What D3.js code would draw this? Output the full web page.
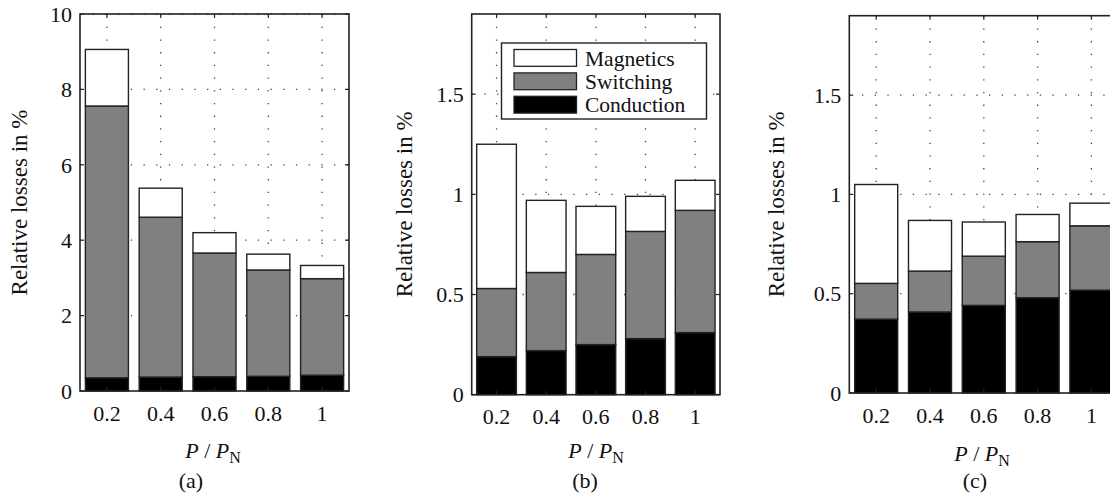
<!DOCTYPE html>
<html>
<head>
<meta charset="utf-8">
<script src="https://cdn.jsdelivr.net/npm/d3@7"></script>
<style>
  body { margin: 0; background: #fff; }
  text { font-family: 'Liberation Serif', 'Times New Roman', serif; fill: #111; }
</style>
</head>
<body>
<svg id="chart" width="1110" height="499"></svg>
<script>
(function () {
  // Data (values are the height of each stacked part, in %)
  var categories = ['0.2', '0.4', '0.6', '0.8', '1']
  var seriesNames = ['Conduction', 'Switching', 'Magnetics']

  var conductionA = [0.35, 0.37, 0.38, 0.39, 0.42]
  var switchingA = [7.21, 4.24, 3.28, 2.82, 2.56]
  var magneticsA = [1.50, 0.77, 0.54, 0.42, 0.35]

  var conductionB = [0.19, 0.22, 0.25, 0.28, 0.31]
  var switchingB = [0.34, 0.39, 0.45, 0.535, 0.61]
  var magneticsB = [0.72, 0.36, 0.24, 0.175, 0.15]

  var conductionC = [0.372, 0.408, 0.441, 0.48, 0.518]
  var switchingC = [0.18, 0.206, 0.248, 0.282, 0.324]
  var magneticsC = [0.498, 0.255, 0.172, 0.137, 0.114]

  var yTicksA = [0, 2, 4, 6, 8, 10]
  var yTicksBC = [0, 0.5, 1, 1.5]

  var FILL = { Conduction: '#000', Switching: '#808080', Magnetics: '#fff' }
  var FONT = 22

  var svg = d3.select('#chart')

  function rows (cond, sw, mag) {
    return categories.map(function (c, i) {
      return { cat: c, Conduction: cond[i], Switching: sw[i], Magnetics: mag[i] }
    })
  }

  function drawPanel (p) {
    var x = d3.scaleBand().domain(categories)
      .range([p.left, p.right]).paddingInner(0.2).paddingOuter(0.1)
    var y = d3.scaleLinear().domain([0, p.ymax]).range([p.bottom, p.top])
    var g = svg.append('g')

    // dotted grid
    var grid = g.append('g').attr('stroke', '#444').attr('stroke-width', 1.3)
      .attr('stroke-dasharray', '1.3 11.4')
    grid.selectAll('.gx').data(categories).enter().append('line')
      .attr('x1', function (d) { return x(d) + x.bandwidth() / 2 })
      .attr('x2', function (d) { return x(d) + x.bandwidth() / 2 })
      .attr('y1', p.top).attr('y2', p.bottom)
    grid.selectAll('.gy').data(p.yticks.slice(1)).enter().append('line')
      .attr('x1', p.left).attr('x2', p.right)
      .attr('y1', function (d) { return y(d) }).attr('y2', function (d) { return y(d) })

    // stacked bars
    var stacked = d3.stack().keys(seriesNames)(p.data)
    g.selectAll('.layer').data(stacked).enter().append('g')
      .attr('fill', function (s) { return FILL[s.key] })
      .selectAll('rect').data(function (s) { return s }).enter().append('rect')
      .attr('x', function (d) { return x(d.data.cat) })
      .attr('width', x.bandwidth())
      .attr('y', function (d) { return y(d[1]) })
      .attr('height', function (d) { return y(d[0]) - y(d[1]) })
      .attr('stroke', '#222').attr('stroke-width', 1.4)

    // box and inward ticks
    g.append('rect').attr('x', p.left).attr('y', p.top)
      .attr('width', p.right - p.left).attr('height', p.bottom - p.top)
      .attr('fill', 'none').attr('stroke', '#222').attr('stroke-width', 1.6)

    var ticks = g.append('g').attr('stroke', '#222').attr('stroke-width', 1.2)
    categories.forEach(function (c) {
      var cx = x(c) + x.bandwidth() / 2
      ticks.append('line').attr('x1', cx).attr('x2', cx).attr('y1', p.bottom).attr('y2', p.bottom - 4)
      ticks.append('line').attr('x1', cx).attr('x2', cx).attr('y1', p.top).attr('y2', p.top + 4)
    })
    p.yticks.forEach(function (v) {
      ticks.append('line').attr('x1', p.left).attr('x2', p.left + 4).attr('y1', y(v)).attr('y2', y(v))
      ticks.append('line').attr('x1', p.right).attr('x2', p.right - 4).attr('y1', y(v)).attr('y2', y(v))
    })

    // tick labels
    g.selectAll('.xl').data(categories).enter().append('text')
      .attr('x', function (d) { return x(d) + x.bandwidth() / 2 })
      .attr('y', p.bottom + 22).attr('dy', '0.35em')
      .attr('text-anchor', 'middle').attr('font-size', FONT)
      .text(function (d) { return d })
    g.selectAll('.yl').data(p.yticks).enter().append('text')
      .attr('x', p.left - 8).attr('y', function (d) { return y(d) }).attr('dy', '0.35em')
      .attr('text-anchor', 'end').attr('font-size', FONT)
      .text(function (d) { return d })

    // axis titles
    g.append('text')
      .attr('transform', 'translate(' + p.ylabelX + ',' + ((p.top + p.bottom) / 2) + ') rotate(-90)')
      .attr('dy', '0.35em').attr('text-anchor', 'middle').attr('font-size', 23)
      .text('Relative losses in %')

    var xt = g.append('text').attr('x', p.xlabelX).attr('y', p.xlabelY)
      .attr('text-anchor', 'middle').attr('font-size', FONT)
    xt.append('tspan').attr('font-style', 'italic').text('P')
    xt.append('tspan').text(' / ')
    xt.append('tspan').attr('font-style', 'italic').text('P')
    xt.append('tspan').attr('font-size', 16).attr('dy', 5).text('N')

    g.append('text').attr('x', p.capX).attr('y', 488)
      .attr('text-anchor', 'middle').attr('font-size', FONT)
      .text(p.caption)

    return { x: x, y: y }
  }

  drawPanel({
    data: rows(conductionA, switchingA, magneticsA), yticks: yTicksA, ymax: 10,
    left: 80, right: 349, top: 14, bottom: 391,
    ylabelX: 19, xlabelX: 213, xlabelY: 458, capX: 191, caption: '(a)'
  })
  drawPanel({
    data: rows(conductionB, switchingB, magneticsB), yticks: yTicksBC, ymax: 1.9,
    left: 471.7, right: 720, top: 14, bottom: 394.7,
    ylabelX: 404, xlabelX: 596, xlabelY: 458, capX: 585, caption: '(b)'
  })
  drawPanel({
    data: rows(conductionC, switchingC, magneticsC), yticks: yTicksBC, ymax: 1.9,
    left: 849.3, right: 1118.3, top: 15.7, bottom: 393,
    ylabelX: 776, xlabelX: 982, xlabelY: 461, capX: 975, caption: '(c)'
  })

  // legend inside panel (b)
  var legend = svg.append('g')
  legend.append('rect').attr('x', 501.5).attr('y', 43).attr('width', 205).attr('height', 76)
    .attr('fill', '#fff').attr('stroke', '#222').attr('stroke-width', 1.4)
  var legendItems = seriesNames.slice().reverse()
  legend.selectAll('.li').data(legendItems).enter().append('rect')
    .attr('x', 514).attr('y', function (d, i) { return 49.5 + i * 23.4 })
    .attr('width', 62.5).attr('height', 16.8)
    .attr('fill', function (d) { return FILL[d] })
    .attr('stroke', '#222').attr('stroke-width', 1.3)
  legend.selectAll('.lt').data(legendItems).enter().append('text')
    .attr('x', 585).attr('y', function (d, i) { return 58 + i * 23.4 }).attr('dy', '0.35em')
    .attr('font-size', 21.5)
    .text(function (d) { return d })
})()
</script>
</body>
</html>
